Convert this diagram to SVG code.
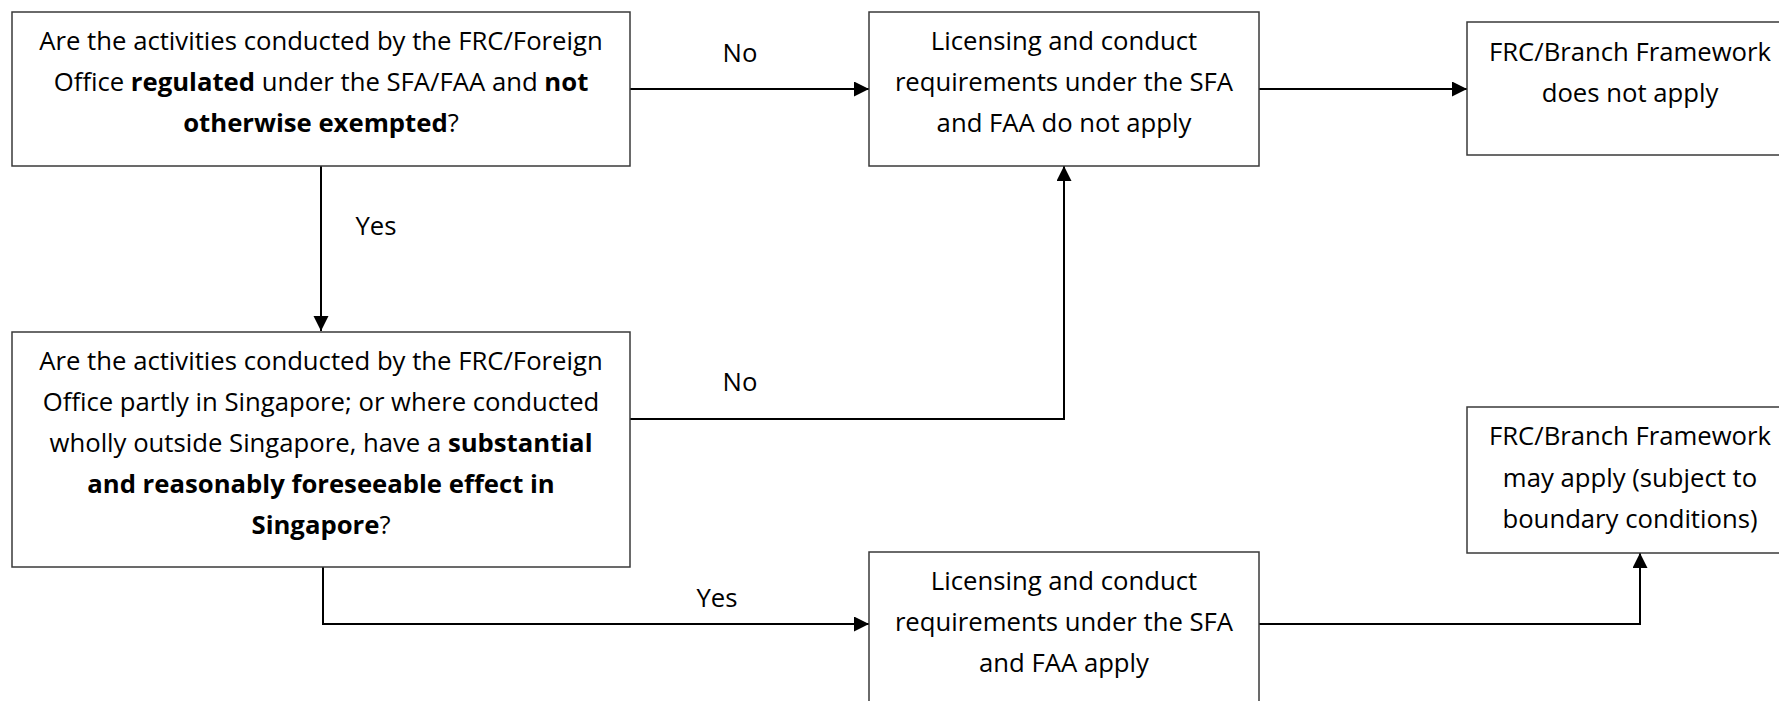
<svg xmlns="http://www.w3.org/2000/svg" width="1779" height="701" viewBox="0 0 1779 701">
<style>
.box{fill:#fff;stroke:#3a3a3a;stroke-width:1.5}
.t{font-family:"Open Sans","Liberation Sans",sans-serif;font-size:25.7px;fill:#000;text-anchor:middle}
.b{font-weight:bold}
.c{fill:none;stroke:#000;stroke-width:2}
</style>
<defs>
<marker id="arr" markerUnits="userSpaceOnUse" markerWidth="16" markerHeight="16" refX="15" refY="7.5" orient="auto">
<path d="M0,0 L15,7.5 L0,15 z" fill="#000"/>
</marker>
</defs>
<rect width="1779" height="701" fill="#fff"/>
<g id="connectors">
<line class="c" x1="630" y1="89" x2="869" y2="89" marker-end="url(#arr)"/>
<line class="c" x1="1259" y1="89" x2="1467" y2="89" marker-end="url(#arr)"/>
<line class="c" x1="321" y1="166" x2="321" y2="331" marker-end="url(#arr)"/>
<polyline class="c" points="630,419 1064,419 1064,166" marker-end="url(#arr)"/>
<polyline class="c" points="323,567 323,624 869,624" marker-end="url(#arr)"/>
<polyline class="c" points="1259,624 1640,624 1640,553" marker-end="url(#arr)"/>
<text class="t" x="740" y="62">No</text>
<text class="t" x="376" y="235">Yes</text>
<text class="t" x="740" y="391">No</text>
<text class="t" x="717" y="607">Yes</text>
</g>
<g id="q1">
<rect class="box" x="12" y="12" width="618" height="154"/>
<text class="t" x="321" y="50">Are the activities conducted by the FRC/Foreign</text>
<text class="t" x="321" y="91">Office <tspan class="b">regulated</tspan> under the SFA/FAA and <tspan class="b">not</tspan></text>
<text class="t" x="321" y="132"><tspan class="b">otherwise exempted</tspan>?</text>
</g>
<g id="notapply">
<rect class="box" x="869" y="12" width="390" height="154"/>
<text class="t" x="1064" y="50">Licensing and conduct</text>
<text class="t" x="1064" y="91">requirements under the SFA</text>
<text class="t" x="1064" y="132">and FAA do not apply</text>
</g>
<g id="fw-no">
<rect class="box" x="1467" y="22" width="330" height="133"/>
<text class="t" x="1630" y="61">FRC/Branch Framework</text>
<text class="t" x="1630" y="102">does not apply</text>
</g>
<g id="q2">
<rect class="box" x="12" y="332" width="618" height="235"/>
<text class="t" x="321" y="370">Are the activities conducted by the FRC/Foreign</text>
<text class="t" x="321" y="411">Office partly in Singapore; or where conducted</text>
<text class="t" x="321" y="452">wholly outside Singapore, have a <tspan class="b">substantial</tspan></text>
<text class="t b" x="321" y="493">and reasonably foreseeable effect in</text>
<text class="t" x="321" y="534"><tspan class="b">Singapore</tspan>?</text>
</g>
<g id="apply">
<rect class="box" x="869" y="552" width="390" height="170"/>
<text class="t" x="1064" y="590">Licensing and conduct</text>
<text class="t" x="1064" y="631">requirements under the SFA</text>
<text class="t" x="1064" y="672">and FAA apply</text>
</g>
<g id="fw-may">
<rect class="box" x="1467" y="407" width="330" height="146"/>
<text class="t" x="1630" y="445">FRC/Branch Framework</text>
<text class="t" x="1630" y="487">may apply (subject to</text>
<text class="t" x="1630" y="528">boundary conditions)</text>
</g>
</svg>
